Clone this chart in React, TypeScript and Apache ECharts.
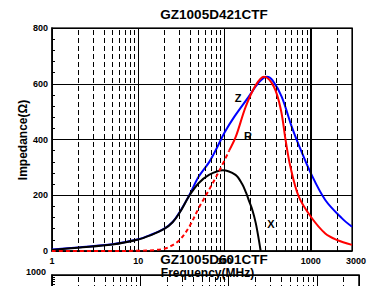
import React, { useEffect, useRef } from "react";
import * as echarts from "echarts";

// ---- data ----
const FREQ_Z = [1, 2, 5, 10, 13.5, 20, 25, 30, 39, 50, 66, 80, 100, 130, 190, 250, 310, 360, 460, 600, 725, 1000, 1470, 2300, 3000];
const Z_VALUES = [5, 13, 24, 42, 56, 80, 104, 138, 200, 266, 318, 365, 425, 482, 553, 605, 625, 612, 553, 446, 380, 279, 183, 117, 87];

const FREQ_X = [1, 2, 5, 10, 13.5, 20, 25, 30, 39, 50, 66, 95, 134, 160, 177, 192, 210, 230, 250, 262];
const X_VALUES = [4, 12, 23, 41, 55, 79, 103, 136, 198, 243, 273, 290, 273, 240, 210, 180, 147, 100, 39, 0];

const FREQ_R = [1, 5, 10, 15, 20, 23, 30, 39, 50, 66, 90, 113, 135, 176, 230, 286, 373, 450, 510, 580, 725, 1000, 1470, 2000, 3000];
const R_VALUES = [0, 0, 1, 3, 8, 15, 39, 87, 153, 219, 297, 360, 410, 518, 595, 625, 589, 506, 398, 302, 195, 123, 63, 40, 22];
const R_DASHED_UNTIL = 113;

const MINOR_FREQS = [2, 3, 4, 5, 6, 7, 8, 9, 20, 30, 40, 50, 60, 70, 80, 90, 200, 300, 400, 500, 600, 700, 800, 900, 2000];
const X_MIN = 1;
const X_MAX = 3000;
const Y_MAX = 800;
const Y_STEP = 200;
const Y2_MAX = 1000;

const TITLE = "GZ1005D421CTF";
const NEXT_TITLE = "GZ1005D601CTF";
const X_NAME = "Frequency(MHz)";
const Y_NAME = "Impedance(\u03A9)";

const FONT = "Liberation Sans, Arial, sans-serif";

const pairs = (xs: number[], ys: number[]) => xs.map((x, i) => [x, ys[i]]);

export default function App() {
  const ref = useRef<HTMLDivElement>(null);

  useEffect(() => {
    if (!ref.current) return;
    const chart = echarts.init(ref.current, undefined, { renderer: "svg" });

    const rAll = pairs(FREQ_R, R_VALUES);
    const rDashed = rAll.filter((p) => p[0] <= R_DASHED_UNTIL);
    const rSolid = rAll.filter((p) => p[0] >= R_DASHED_UNTIL);

    const gridLineSeries = (idx: number) => ({
      type: "line",
      xAxisIndex: idx,
      yAxisIndex: idx,
      data: [[1, 0]],
      showSymbol: false,
      silent: true,
      lineStyle: { opacity: 0 },
      z: 1,
      markLine: {
        silent: true,
        symbol: ["none", "none"],
        label: { show: false },
        lineStyle: { type: [5, 3], color: "#000", width: 1 },
        data: MINOR_FREQS.map((f) => ({ xAxis: f })),
      },
    });

    const labelStyle = { fontSize: 9, fontWeight: "bold", color: "#000", fontFamily: FONT };

    const option: any = {
      animation: false,
      grid: [
        { left: 52, top: 28, width: 300, height: 223, show: true, borderColor: "#333", borderWidth: 1.5 },
        { left: 52, top: 275, width: 307, height: 220, show: true, borderColor: "#000", borderWidth: 1.5 },
      ],
      xAxis: [
        {
          type: "log",
          logBase: 10,
          gridIndex: 0,
          min: X_MIN,
          max: X_MAX,
          axisLine: { show: true, lineStyle: { color: "#000", width: 1.5 } },
          axisTick: { show: false },
          splitLine: { show: true, lineStyle: { color: "#000", width: 1 } },
          axisLabel: {
            ...labelStyle,
            margin: 5,
            formatter: (v: number) => {
              const r = Math.round(v);
              return r === 3000 ? "{r|3000}" : String(r);
            },
            rich: { r: { ...labelStyle, padding: [0, 0, 0, 8] } },
          },
        },
        {
          type: "log",
          logBase: 10,
          gridIndex: 1,
          min: X_MIN,
          max: X_MAX,
          axisLine: { show: true, lineStyle: { color: "#000", width: 1.5 } },
          axisTick: { show: false },
          axisLabel: { show: false },
          splitLine: { show: true, lineStyle: { color: "#000", width: 1 } },
        },
      ],
      yAxis: [
        {
          type: "value",
          gridIndex: 0,
          min: 0,
          max: Y_MAX,
          interval: Y_STEP,
          axisLine: { show: true, lineStyle: { color: "#000", width: 1.5 } },
          axisTick: { show: true, inside: true, length: 4, lineStyle: { color: "#000" } },
          minorTick: { show: true, splitNumber: 5, length: 3, lineStyle: { color: "#000" } },
          splitLine: { show: true, lineStyle: { color: "#000", width: 1 } },
          axisLabel: { ...labelStyle, margin: 4 },
        },
        {
          type: "value",
          gridIndex: 1,
          min: 0,
          max: Y2_MAX,
          interval: Y_STEP,
          axisLine: { show: true, lineStyle: { color: "#000", width: 1.5 } },
          axisTick: { show: true, inside: true, length: 4, lineStyle: { color: "#000" } },
          minorTick: { show: true, splitNumber: 5, length: 3, lineStyle: { color: "#000" } },
          splitLine: { show: true, lineStyle: { color: "#000", width: 1 } },
          axisLabel: { show: false },
        },
      ],
      series: [
        gridLineSeries(0),
        gridLineSeries(1),
        {
          type: "line",
          xAxisIndex: 0,
          yAxisIndex: 0,
          data: [[1, 0]],
          showSymbol: false,
          silent: true,
          lineStyle: { opacity: 0 },
          z: 2,
          markLine: {
            silent: true,
            symbol: ["none", "none"],
            label: { show: false },
            lineStyle: { type: "solid", color: "#000", width: 2 },
            data: [{ xAxis: 1000 }],
          },
        },
        {
          name: "Z",
          type: "line",
          xAxisIndex: 0,
          yAxisIndex: 0,
          data: pairs(FREQ_Z, Z_VALUES),
          smooth: 0.35,
          showSymbol: false,
          lineStyle: { color: "#0000ff", width: 2 },
          z: 3,
        },
        {
          name: "X",
          type: "line",
          xAxisIndex: 0,
          yAxisIndex: 0,
          data: pairs(FREQ_X, X_VALUES),
          smooth: 0.35,
          showSymbol: false,
          lineStyle: { color: "#000", width: 2 },
          z: 4,
        },
        {
          name: "R dashed",
          type: "line",
          xAxisIndex: 0,
          yAxisIndex: 0,
          data: rDashed,
          smooth: 0.35,
          showSymbol: false,
          lineStyle: { color: "#ff0000", width: 2, type: [4, 3] },
          z: 5,
        },
        {
          name: "R",
          type: "line",
          xAxisIndex: 0,
          yAxisIndex: 0,
          data: rSolid,
          smooth: 0.35,
          showSymbol: false,
          lineStyle: { color: "#ff0000", width: 2 },
          z: 5,
        },
      ],
      graphic: [
        {
          type: "text",
          x: 214,
          y: 14,
          z: 100,
          style: { text: TITLE, font: `bold 13.5px ${FONT}`, fill: "#000", textAlign: "center", textVerticalAlign: "middle" },
        },
        {
          type: "text",
          x: 23,
          y: 140,
          rotation: Math.PI / 2,
          z: 100,
          style: { text: Y_NAME, font: `bold 12px ${FONT}`, fill: "#000", textAlign: "center", textVerticalAlign: "middle" },
        },
        {
          type: "text",
          x: 214,
          y: 259,
          z: 100,
          style: { text: NEXT_TITLE, font: `bold 13.5px ${FONT}`, fill: "#000", textAlign: "center", textVerticalAlign: "middle" },
        },
        {
          type: "text",
          x: 207.5,
          y: 273,
          z: 100,
          style: { text: X_NAME, font: `bold 12px ${FONT}`, fill: "#000", textAlign: "center", textVerticalAlign: "middle" },
        },
        {
          type: "text",
          x: 46,
          y: 272,
          z: 100,
          style: { text: String(Y2_MAX), font: `bold 9px ${FONT}`, fill: "#000", textAlign: "right", textVerticalAlign: "middle" },
        },
        {
          type: "text",
          x: 238,
          y: 98,
          z: 100,
          style: { text: "Z", font: `bold 11px ${FONT}`, fill: "#000", textAlign: "center", textVerticalAlign: "middle" },
        },
        {
          type: "text",
          x: 248,
          y: 136,
          z: 100,
          style: { text: "R", font: `bold 11px ${FONT}`, fill: "#000", textAlign: "center", textVerticalAlign: "middle" },
        },
        {
          type: "text",
          x: 271,
          y: 224,
          z: 100,
          style: { text: "X", font: `bold 11px ${FONT}`, fill: "#000", textAlign: "center", textVerticalAlign: "middle" },
        },
      ],
    };

    chart.setOption(option);
    return () => chart.dispose();
  }, []);

  return (
    <div
      ref={ref}
      style={{ position: "fixed", left: 0, top: 0, width: 372, height: 286, background: "#fff" }}
    />
  );
}
